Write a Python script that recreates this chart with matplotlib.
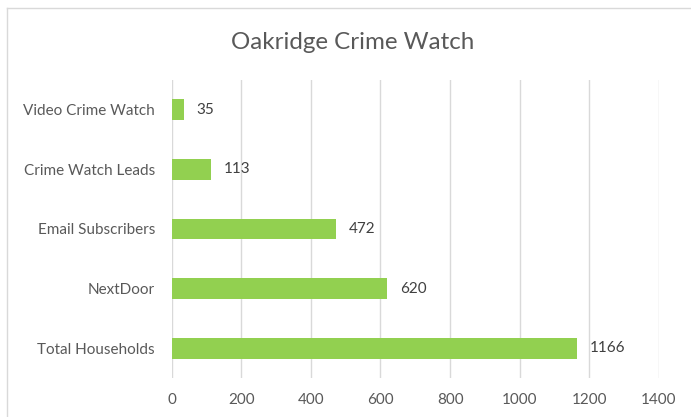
import matplotlib.pyplot as plt
from matplotlib.lines import Line2D

categories = ["Total Households", "NextDoor", "Email Subscribers",
              "Crime Watch Leads", "Video Crime Watch"]
values = [1166, 620, 472, 113, 35]
xticks = [0, 200, 400, 600, 800, 1000, 1200, 1400]

plt.rcParams['font.family'] = ['Lato', 'DejaVu Sans']

fig = plt.figure(figsize=(6.91, 4.17), dpi=100)
ax = fig.add_axes([0.2485, 0.0935, 0.705, 0.7147])

ax.barh(categories, values, height=0.35, color="#92D050", zorder=3)
ax.set_xlim(0, 1400)
ax.set_ylim(-0.5, len(categories) - 0.5)
ax.set_xticks(xticks)
ax.grid(axis="x", color="#d9d9d9", linewidth=1, zorder=0)
for s in ax.spines.values():
    s.set_visible(False)
ax.tick_params(axis="both", length=0, labelsize=11, labelcolor="#595959")
ax.tick_params(axis="y", pad=12)
ax.tick_params(axis="x", pad=11)

for i, v in enumerate(values):
    ax.annotate(str(v), (v, i), xytext=(9, 0), textcoords="offset points",
                va="center", ha="left", fontsize=11, color="#404040")

fig.text(0.51, 0.899, "Oakridge Crime Watch", ha="center", va="center",
         fontsize=17.4, color="#595959")

# chart frame
fig.add_artist(Line2D([7 / 691, 1], [1 - 8 / 417, 1 - 8 / 417], color="#d9d9d9", linewidth=1))
fig.add_artist(Line2D([7 / 691, 7 / 691], [0, 1 - 8 / 417], color="#d9d9d9", linewidth=1))

fig.savefig("out.png", dpi=100)
